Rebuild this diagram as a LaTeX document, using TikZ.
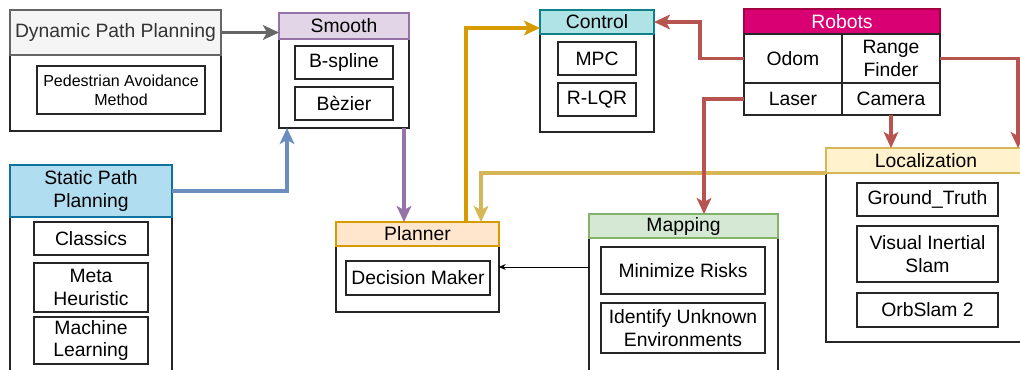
\documentclass[tikz,border=0pt]{standalone}
\usepackage{fontspec}
\setmainfont{Liberation Sans}
\usetikzlibrary{arrows.meta,positioning}
\definecolor{grayd}{HTML}{666666}
\definecolor{grayl}{HTML}{F5F5F5}
\definecolor{graytx}{HTML}{333333}
\definecolor{violetd}{HTML}{9673A6}
\definecolor{violetl}{HTML}{E1D5E7}
\definecolor{blued}{HTML}{10739E}
\definecolor{bluel}{HTML}{B1DDF0}
\definecolor{bluearr}{HTML}{6C8EBF}
\definecolor{orad}{HTML}{D79B00}
\definecolor{oral}{HTML}{FFE6CC}
\definecolor{tealset}{HTML}{0E8088}
\definecolor{teall}{HTML}{B0E3E6}
\definecolor{magd}{HTML}{A50040}
\definecolor{magl}{HTML}{D80073}
\definecolor{yeld}{HTML}{D6B656}
\definecolor{yell}{HTML}{FFF2CC}
\definecolor{greend}{HTML}{82B366}
\definecolor{greenl}{HTML}{D5E8D4}
\definecolor{redd}{HTML}{B85450}

\begin{document}
\begin{tikzpicture}[
      x = 0.75pt, y = -0.75pt,
      every node/.style = {inner sep = 0, outer sep = 0, align = center, font = \fontsize{14.5}{17}\selectfont},
      sz/.style 2 args = {minimum width = #1*0.75pt, minimum height = #2*0.75pt},
      frame/.style = {draw = black!85, line width = 0.8pt, anchor = north west},
      hdr/.style = {draw, line width = 0.8pt, anchor = north west},
      item/.style = {draw = black!85, line width = 0.8pt, anchor = north west},
      link/.style = {line width = 2.6pt, -{Stealth[length = 12pt, width = 11pt, inset = 3pt]}}
      ]
    \useasboundingbox (0,0) rectangle (1020,369);

    % dynamic path planning
    \node [frame, sz={211}{121}] (dyn) at (10,10) {};
    \node [hdr, draw=grayd, fill=grayl, text=graytx, sz={211}{45}] (dynh) at (10,10) {Dynamic Path Planning};
    \node [item, sz={168}{48}, font=\fontsize{12}{14}\selectfont] (ped) at (37,66) {Pedestrian Avoidance\\Method};

    % smooth
    \node [frame, sz={130}{115}] (smo) at (279,13) {};
    \node [hdr, draw=violetd, fill=violetl, sz={130}{26}] (smoh) at (279,13) {Smooth};
    \node [item, sz={98}{33}] (bsp) at (295,46) {B-spline};
    \node [item, sz={98}{33}] (bez) at (295,87) {Bèzier};

    % static path planning
    \node [frame, sz={162}{215}] (sta) at (10,165) {};
    \node [hdr, draw=blued, fill=bluel, sz={162}{52}] (stah) at (10,165) {Static Path\\Planning};
    \node [item, sz={114}{33}] (cla) at (34,222) {Classics};
    \node [item, sz={114}{49}] (meta) at (34,263) {Meta\\Heuristic};
    \node [item, sz={114}{47}] (ml) at (34,317) {Machine\\Learning};

    % planner
    \node [frame, sz={163}{90}] (pla) at (336,222) {};
    \node [hdr, draw=orad, fill=oral, sz={163}{24}] (plah) at (336,222) {Planner};
    \node [item, sz={144}{34}] (dec) at (346,261) {Decision Maker};

    % control
    \node [frame, sz={114}{122}] (ctl) at (540,10) {};
    \node [hdr, draw=tealset, fill=teall, sz={114}{24}] (ctlh) at (540,10) {Control};
    \node [item, sz={78}{33}] (mpc) at (558,42) {MPC};
    \node [item, sz={78}{33}] (lqr) at (558,83) {R-LQR};

    % robots
    \node [hdr, draw=magd, fill=magl, text=white, sz={196}{25}] (rob) at (744,9) {Robots};
    \node [frame, sz={98}{49}] (odom) at (744,34) {Odom};
    \node [frame, sz={98}{49}] (range) at (842,34) {Range\\Finder};
    \node [frame, sz={98}{32}] (laser) at (744,83) {Laser};
    \node [frame, sz={98}{32}] (cam) at (842,83) {Camera};

    % localization
    \node [frame, sz={200}{194}] (loc) at (826,148) {};
    \node [hdr, draw=yeld, fill=yell, sz={200}{25}] (loch) at (826,148) {Localization};
    \node [item, sz={141}{33}] (gt) at (857,183) {Ground\_Truth};
    \node [item, sz={141}{56}] (vis) at (857,226) {Visual Inertial\\Slam};
    \node [item, sz={141}{34}] (orb) at (857,293) {OrbSlam 2};

    % mapping
    \node [frame, sz={189}{170}] (map) at (589,214) {};
    \node [hdr, draw=greend, fill=greenl, sz={189}{24}] (maph) at (589,214) {Mapping};
    \node [item, sz={164}{47}] (risk) at (601,247) {Minimize Risks};
    \node [item, sz={164}{50}] (unk) at (601,303) {Identify Unknown\\Environments};

    % free ends
    \coordinate (smoin) at (287,128);
    \coordinate (smoout) at (404,128);
    \coordinate (plaout) at (466,222);
    \coordinate (ctlin) at (540,28);
    \coordinate (redA) at (700,22);
    \coordinate (mapin) at (704,214);
    \coordinate (locin) at (1018,148);
    \coordinate (plain) at (481,222);
    \coordinate (mapout) at (589,267);

    \draw [link, grayd] (dynh.east) -- (dynh.east -| smo.west);
    \draw [link, bluearr] (stah.east) -| (smoin);
    \draw [link, violetd] (smoout) -- (smoout |- pla.north);
    \draw [link, orad] (plaout) |- (ctlin);
    \draw [link, yeld] (loch.south west) -| (plain);
    \draw [link, redd] (odom.west) -| (redA) -- (redA -| ctl.east);
    \draw [link, redd] (laser.west) -| (mapin);
    \draw [link, redd] (cam.south) -- (cam.south |- loc.north);
    \draw [link, redd] (range.east) -| (locin);
    \draw [line width = 0.7pt, -{Stealth[length = 5pt, width = 4.5pt]}] (mapout) -- (mapout -| pla.east);
\end{tikzpicture}
\end{document}
